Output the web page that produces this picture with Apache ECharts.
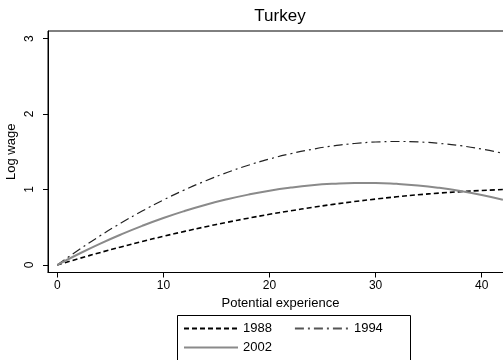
<!DOCTYPE html>
<html>
<head>
<meta charset="utf-8">
<script src="https://cdn.jsdelivr.net/npm/echarts@6/dist/echarts.min.js"></script>
<style>
  html, body { margin: 0; padding: 0; background: #fff; }
  #chart { width: 503px; height: 360px; }
</style>
</head>
<body>
<div id="chart"></div>
<script>
// Potential experience (years)
var experience = [0, 2, 4, 6, 8, 10, 12, 14, 16, 18, 20, 22, 24, 26, 28, 30, 32, 34, 36, 38, 40, 42];

// Fitted log-wage profiles by survey year
var wage1988 = [0, 0.083, 0.163, 0.238, 0.311, 0.380, 0.445, 0.507, 0.565, 0.620, 0.671,
                0.718, 0.762, 0.803, 0.840, 0.873, 0.903, 0.930, 0.952, 0.971, 0.987, 0.999];
var wage1994 = [0, 0.198, 0.383, 0.555, 0.714, 0.861, 0.995, 1.116, 1.225, 1.321, 1.404,
                1.474, 1.532, 1.577, 1.609, 1.629, 1.636, 1.630, 1.611, 1.580, 1.536, 1.479];
var wage2002 = [0, 0.145, 0.280, 0.404, 0.518, 0.622, 0.715, 0.798, 0.870, 0.932, 0.984,
                1.025, 1.056, 1.076, 1.086, 1.086, 1.075, 1.054, 1.022, 0.980, 0.928, 0.865];

var xTicks = [0, 10, 20, 30, 40];
var yTicks = [0, 1, 2, 3];

function pairs(ys) {
  return experience.map(function (x, i) { return [x, ys[i]]; });
}

var font = 'Liberation Sans, Arial, Helvetica, sans-serif';
var chart = echarts.init(document.getElementById('chart'), null, { renderer: 'canvas' });

chart.setOption({
  animation: false,
  backgroundColor: '#fff',
  title: {
    text: 'Turkey',
    left: 280,
    textAlign: 'center',
    top: 8,
    padding: 0,
    textStyle: { fontFamily: font, fontSize: 17, fontWeight: 'normal', color: '#000' }
  },
  grid: {
    left: 48, top: 31, right: -10, bottom: 87.5,
    outerBoundsMode: 'none',
    containLabel: false,
    show: true, borderColor: '#000', borderWidth: 1, backgroundColor: '#fff'
  },
  xAxis: {
    type: 'value',
    min: -0.877, max: 42.95,
    name: 'Potential experience',
    nameLocation: 'middle',
    nameGap: 24,
    nameMoveOverlap: false,
    nameTextStyle: { fontFamily: font, fontSize: 13, color: '#000' },
    axisLine: { show: true, onZero: false, lineStyle: { color: '#000', width: 1 } },
    axisTick: { show: true, length: 5, customValues: xTicks, lineStyle: { color: '#000' } },
    axisLabel: { customValues: xTicks, margin: 7, fontFamily: font, fontSize: 12, color: '#000' },
    splitLine: { show: false }
  },
  yAxis: {
    type: 'value',
    min: -0.1, max: 3.1,
    name: 'Log wage',
    nameLocation: 'middle',
    nameGap: 30,
    nameRotate: 90,
    nameMoveOverlap: false,
    nameTextStyle: { fontFamily: font, fontSize: 13, color: '#000' },
    axisLine: { show: true, onZero: false, lineStyle: { color: '#000', width: 1 } },
    axisTick: { show: true, length: 5, customValues: yTicks, lineStyle: { color: '#000' } },
    axisLabel: { customValues: yTicks, rotate: 90, margin: 12, fontFamily: font, fontSize: 12, color: '#000' },
    splitLine: { show: false }
  },
  legend: [
    {
      data: ['1988', { name: '1994', lineStyle: { color: '#555' } }],
      left: 183, top: 322, padding: 0,
      itemWidth: 54, itemHeight: 12, itemGap: 22,
      itemStyle: { opacity: 0 },
      textStyle: { fontFamily: font, fontSize: 13, color: '#000' }
    },
    {
      data: ['2002'],
      left: 183, top: 341, padding: 0,
      itemWidth: 54, itemHeight: 12,
      itemStyle: { opacity: 0 },
      textStyle: { fontFamily: font, fontSize: 13, color: '#000' }
    }
  ],
  graphic: [
    {
      type: 'rect',
      shape: { x: 177.5, y: 315.5, width: 233, height: 60 },
      style: { fill: 'none', stroke: '#000', lineWidth: 1 },
      silent: true
    }
  ],
  series: [
    {
      name: '1988', type: 'line', data: pairs(wage1988),
      smooth: true, symbol: 'none', clip: true,
      lineStyle: { color: '#000', width: 1.6, type: [5, 3] },
      itemStyle: { color: '#000' }
    },
    {
      name: '1994', type: 'line', data: pairs(wage1994),
      smooth: true, symbol: 'none', clip: true,
      lineStyle: { color: '#222', width: 1.2, type: [9, 4, 2, 4] },
      itemStyle: { color: '#555' }
    },
    {
      name: '2002', type: 'line', data: pairs(wage2002),
      smooth: true, symbol: 'none', clip: true,
      lineStyle: { color: '#8a8a8a', width: 2 },
      itemStyle: { color: '#8a8a8a' }
    }
  ]
});
</script>
</body>
</html>
